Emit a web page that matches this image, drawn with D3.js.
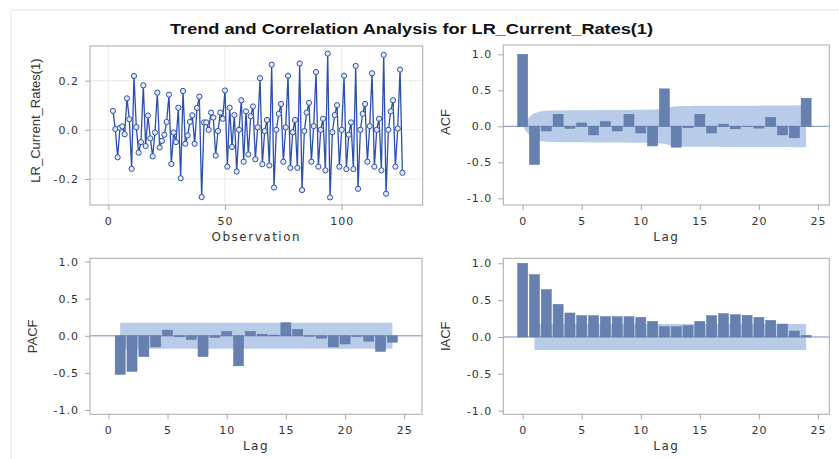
<!DOCTYPE html>
<html lang="en">
<head>
    <meta charset="UTF-8">
    <title>Trend and Correlation Analysis for LR_Current_Rates(1)</title>
    <script src="https://d3js.org/d3.v7.min.js"></script>
    <style>
        body { margin: 0; background: #fff; }
        text { font-family: "DejaVu Sans", sans-serif; fill: #333; }
        .tick text { font-size: 11px; letter-spacing: 1px; }
        .tick line { stroke: #a8a8a8; }
        .xlab { font-size: 12px; letter-spacing: 1.5px; }
        .ylab { font-family: "Liberation Sans", Arial, sans-serif; font-size: 13px; }
        .title { font-family: "Liberation Sans", Arial, sans-serif; font-size: 14.5px; font-weight: bold; fill: #111; }
    </style>
</head>
<body>
<script>
    // series: LR_Current_Rates(1), first observation is 2
    const firstObs = 2;
    const rates = [
        0.077, 0.003, -0.112, 0.008, 0.014, -0.018, 0.128, 0.043, -0.159, 0.219,
        0.011, -0.093, -0.05, 0.181, -0.066, 0.058, -0.035, -0.108, -0.011, 0.151,
        -0.072, -0.045, -0.02, 0.032, 0.143, -0.139, -0.011, -0.05, 0.09, -0.197,
        0.158, -0.057, -0.023, 0.032, 0.059, -0.057, 0.089, 0.135, -0.274, 0.03,
        0.03, 0.0, 0.07, 0.05, -0.105, -0.005, 0.07, 0.045, 0.16, -0.15,
        0.09, -0.07, 0.06, -0.17, 0.0, 0.12, -0.13, 0.075, -0.1, 0.055,
        0.095, -0.12, 0.01, 0.21, -0.14, -0.005, 0.04, -0.145, 0.265, -0.235,
        0.0, 0.065, 0.105, -0.13, 0.01, 0.22, -0.155, -0.01, 0.04, -0.155,
        0.27, -0.245, -0.005, 0.07, 0.11, -0.13, 0.015, 0.235, -0.15, 0.0,
        0.045, -0.165, 0.31, -0.275, -0.01, 0.06, 0.1, -0.15, 0.0, 0.22,
        -0.16, -0.02, 0.03, -0.16, 0.26, -0.24, 0.0, 0.065, 0.105, -0.13,
        0.015, 0.23, -0.15, 0.0, 0.045, -0.165, 0.305, -0.26, 0.0, 0.075,
        0.12, -0.15, 0.005, 0.245, -0.175
    ];

    // ACF, lags 0..24
    const acf = [1.0, -0.53, -0.065, 0.167, -0.028, 0.046, -0.12, 0.065, -0.065, 0.167,
        -0.093, -0.273, 0.52, -0.29, -0.02, 0.167, -0.093, 0.03, -0.035, -0.005,
        -0.025, 0.125, -0.12, -0.16, 0.39];
    const acfUpper = [0, 0.18, 0.215, 0.22, 0.222, 0.223, 0.224, 0.225, 0.226, 0.228,
        0.229, 0.232, 0.245, 0.28, 0.283, 0.284, 0.285, 0.286, 0.286, 0.287,
        0.287, 0.288, 0.289, 0.29, 0.291];

    // PACF, lags 1..24
    const pacf = [-0.52, -0.48, -0.28, -0.15, 0.077, -0.013, -0.05, -0.28, -0.022, 0.059,
        -0.405, 0.059, 0.022, 0.01, 0.176, 0.086, -0.005, -0.032, -0.15, -0.11,
        -0.01, -0.072, -0.21, -0.086];
    const pacfBand = 0.175;

    // IACF, lags 0..24
    const iacf = [1.0, 0.846, 0.643, 0.443, 0.326, 0.29, 0.29, 0.276, 0.276, 0.276,
        0.267, 0.213, 0.14, 0.14, 0.154, 0.213, 0.29, 0.317, 0.303, 0.294,
        0.267, 0.226, 0.176, 0.081, 0.023];
    const iacfBand = 0.175;

    const obsTicks = [0, 50, 100];
    const rateTicks = [-0.2, 0.0, 0.2];
    const lagTicks = [0, 5, 10, 15, 20, 25];
    const corrTicks = [-1.0, -0.5, 0.0, 0.5, 1.0];

    const width = 839, height = 459;
    const barColor = "#6680af", bandColor = "#b8cce9", refColor = "#7891bd";
    const lineColor = "#2c50ad";

    const svg = d3.select("body").append("svg").attr("width", width).attr("height", height);

    // light outer border
    svg.append("path").attr("d", `M11,${height} L11,10 L${width},10`)
        .attr("fill", "none").attr("stroke", "#e4e4e4");

    svg.append("text").attr("class", "title")
        .attr("x", 411.5).attr("y", 34).attr("text-anchor", "middle")
        .attr("textLength", 483).attr("lengthAdjust", "spacingAndGlyphs")
        .text("Trend and Correlation Analysis for LR_Current_Rates(1)");

    const fmt = d => d.toFixed(1);

    // panel: frame, scales and axes
    function panel(p) {
        const g = svg.append("g");
        const x = d3.scaleLinear().domain(p.xDomain).range([p.x0, p.x1]);
        const y = d3.scaleLinear().domain(p.yDomain).range([p.y1, p.y0]);

        if (p.grid) {
            g.append("g").selectAll("line").data(p.xTicks).join("line")
                .attr("x1", d => x(d)).attr("x2", d => x(d))
                .attr("y1", p.y0).attr("y2", p.y1)
                .attr("stroke", "#ebebeb");
            g.append("g").selectAll("line").data(p.yTicks).join("line")
                .attr("x1", p.x0).attr("x2", p.x1)
                .attr("y1", d => y(d)).attr("y2", d => y(d))
                .attr("stroke", "#ebebeb");
        }

        const xa = g.append("g").attr("transform", `translate(0,${p.y1})`)
            .call(d3.axisBottom(x).tickValues(p.xTicks).tickFormat(d => d).tickSize(5).tickPadding(7));
        const ya = g.append("g").attr("transform", `translate(${p.x0},0)`)
            .call(d3.axisLeft(y).tickValues(p.yTicks).tickFormat(fmt).tickSize(5).tickPadding(6));
        xa.select(".domain").remove();
        ya.select(".domain").remove();
        g.selectAll(".tick text").attr("font-family", null).attr("font-size", null).attr("fill", null);

        g.append("text").attr("class", "xlab")
            .attr("x", (p.x0 + p.x1) / 2).attr("y", p.y1 + 32)
            .attr("text-anchor", "middle").attr("dominant-baseline", "central")
            .text(p.xLabel);
        g.append("text").attr("class", "ylab")
            .attr("transform", `translate(${p.x0 - p.yLabOff},${(p.y0 + p.y1) / 2 + p.yLabShift}) rotate(-90)`)
            .attr("text-anchor", "middle").attr("dominant-baseline", "central")
            .text(p.yLabel);

        const plot = g.append("g");
        g.append("rect").attr("x", p.x0).attr("y", p.y0)
            .attr("width", p.x1 - p.x0).attr("height", p.y1 - p.y0)
            .attr("fill", "none").attr("stroke", "#a9a9a9");
        return {plot, x, y, p};
    }

    function drawBars(c, lags, values, upper, lower, curve) {
        const {plot, x, y, p} = c;
        const area = d3.area()
            .x((d, i) => x(lags[i]))
            .y0((d, i) => y(lower[i]))
            .y1((d, i) => y(upper[i]))
            .curve(curve);
        plot.append("path").datum(upper).attr("d", area).attr("fill", bandColor);
        plot.append("line").attr("x1", p.x0).attr("x2", p.x1)
            .attr("y1", y(0)).attr("y2", y(0)).attr("stroke", refColor);
        plot.append("g").selectAll("rect").data(values).join("rect")
            .attr("x", (d, i) => x(lags[i] - 0.425))
            .attr("width", x(0.85) - x(0))
            .attr("y", d => y(Math.max(0, d)))
            .attr("height", d => Math.abs(y(d) - y(0)))
            .attr("fill", barColor).attr("stroke", "#5b74a2").attr("stroke-width", 0.5);
    }

    // series plot
    const s = panel({x0: 90, x1: 422.7, y0: 46, y1: 205,
        xDomain: [-7.84, 134.7], yDomain: [-0.306, 0.341],
        xTicks: obsTicks, yTicks: rateTicks, grid: true,
        xLabel: "Observation", yLabel: "LR_Current_Rates(1)", yLabOff: 55, yLabShift: -5});
    const line = d3.line().x((d, i) => s.x(firstObs + i)).y(d => s.y(d));
    s.plot.append("path").datum(rates).attr("d", line)
        .attr("fill", "none").attr("stroke", lineColor).attr("stroke-width", 1.3);
    s.plot.append("g").selectAll("circle").data(rates).join("circle")
        .attr("cx", (d, i) => s.x(firstObs + i)).attr("cy", d => s.y(d)).attr("r", 2.6)
        .attr("fill", "#e3e9f6").attr("stroke", lineColor).attr("stroke-width", 1);

    // ACF
    const a = panel({x0: 503.3, x1: 829.3, y0: 45, y1: 205,
        xDomain: [-1.64, 25.96], yDomain: [-1.093, 1.129],
        xTicks: lagTicks, yTicks: corrTicks,
        xLabel: "Lag", yLabel: "ACF", yLabOff: 58, yLabShift: -3});
    const acfLags = acf.map((d, i) => i);
    drawBars(a, acfLags, acf, acfUpper, acfUpper.map(d => -d), d3.curveMonotoneX);

    // PACF
    const pc = panel({x0: 90, x1: 422, y0: 258.3, y1: 414.3,
        xDomain: [-1.55, 26.5], yDomain: [-1.058, 1.045],
        xTicks: lagTicks, yTicks: corrTicks,
        xLabel: "Lag", yLabel: "PACF", yLabOff: 58, yLabShift: 0});
    const pacfLags = pacf.map((d, i) => i + 1);
    drawBars(pc, pacfLags, pacf, pacf.map(() => pacfBand), pacf.map(() => -pacfBand), d3.curveLinear);

    // IACF
    const ic = panel({x0: 503.3, x1: 829.3, y0: 258.3, y1: 414.3,
        xDomain: [-1.64, 25.96], yDomain: [-1.049, 1.068],
        xTicks: lagTicks, yTicks: corrTicks,
        xLabel: "Lag", yLabel: "IACF", yLabOff: 58, yLabShift: 0});
    const iacfLags = iacf.map((d, i) => i);
    // band runs from lag 1 to 24
    const bandLags = iacfLags.slice(1);
    const {plot: ip, x: ix, y: iy} = ic;
    drawBars({plot: ip, x: ix, y: iy, p: ic.p}, bandLags, [], bandLags.map(() => iacfBand), bandLags.map(() => -iacfBand), d3.curveLinear);
    ip.append("g").selectAll("rect").data(iacf).join("rect")
        .attr("x", (d, i) => ix(iacfLags[i] - 0.425))
        .attr("width", ix(0.85) - ix(0))
        .attr("y", d => iy(Math.max(0, d)))
        .attr("height", d => Math.abs(iy(d) - iy(0)))
        .attr("fill", barColor).attr("stroke", "#5b74a2").attr("stroke-width", 0.5);
</script>
</body>
</html>
